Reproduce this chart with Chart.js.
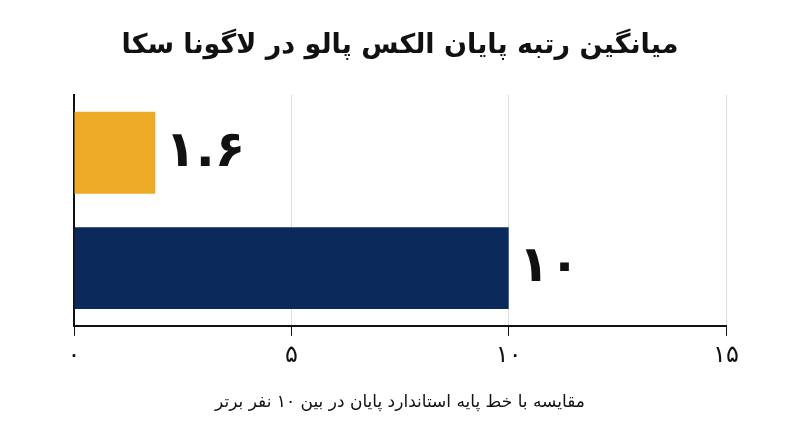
<!DOCTYPE html>
<html><head><meta charset="utf-8">
<script src="https://cdn.jsdelivr.net/npm/chart.js@4"></script>
<style>html,body{margin:0;background:#fff}#w{width:800px;height:447px}</style>
</head><body><div id="w"><canvas id="c"></canvas></div>
<script>
const categories = ["لاگونا سکا", "۱۰ نفر برتر"];
const values = [1.87, 10];
const valueLabels = ["۱.۶", "۱۰"];
const colors = ["#EDAA25", "#0B2A5B"];
const tickLabels = {0:"۰",5:"۵",10:"۱۰",15:"۱۵"};
const titleText = "میانگین رتبه پایان الکس پالو در لاگونا سکا";
const FONT = "'DejaVu Sans', 'Noto Sans', sans-serif";

const labelPlugin = {
  id:'vl',
  afterDatasetsDraw(chart){
    const ctx = chart.ctx, meta = chart.getDatasetMeta(0);
    ctx.save();
    ctx.font = "bold 50px " + FONT;
    ctx.fillStyle = "#111";
    ctx.textBaseline = "middle";
    ctx.textAlign = "left";
    meta.data.forEach((b,i)=>ctx.fillText(valueLabels[i], b.x + 10, b.y));
    ctx.font = "bold 27px " + FONT;
    ctx.textAlign = "center";
    ctx.fillText(titleText, chart.width/2, 46);
    ctx.restore();
  }
};

new Chart(document.getElementById('c'), {
  type:'bar',
  data:{labels:categories, datasets:[{data:values, backgroundColor:colors, barPercentage:0.71, categoryPercentage:1}]},
  options:{
    indexAxis:'y', responsive:true, maintainAspectRatio:false, animation:false,
    layout:{padding:{left:0,right:74,top:95,bottom:30}},
    plugins:{ legend:{display:false}, tooltip:{enabled:false} },
    scales:{
      x:{min:0,max:15,
        ticks:{stepSize:5, callback:v=>tickLabels[v], font:{family:FONT,size:24}, color:'#111', padding:6},
        grid:{color:'#dddddd', tickLength:10, tickColor:'#111', drawTicks:true},
        border:{color:'#111', width:2},
        title:{display:true, text:"مقایسه با خط پایه استاندارد پایان در بین ۱۰ نفر برتر", font:{family:FONT,size:17}, color:'#111', padding:{top:16}}
      },
      y:{ticks:{display:false}, grid:{display:false}, border:{color:'#111',width:2}, afterFit(s){s.width=74;}}
    }
  },
  plugins:[labelPlugin]
});
</script></body></html>
